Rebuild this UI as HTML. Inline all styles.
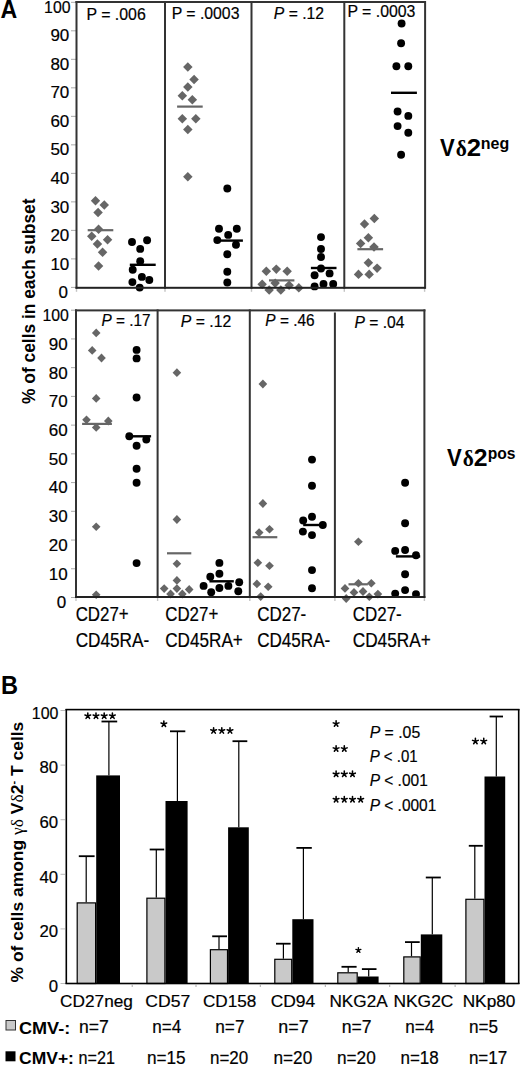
<!DOCTYPE html>
<html><head><meta charset="utf-8"><style>
html,body{margin:0;padding:0;background:#fff;}
svg{display:block;font-family:"Liberation Sans", sans-serif;}
text{stroke:#000;stroke-width:0.2px;}
[font-weight=bold]{stroke:none;}
</style></head><body>
<svg width="520" height="1065" viewBox="0 0 520 1065" font-family='"Liberation Sans", sans-serif'>
<rect width="520" height="1065" fill="#fff"/>
<rect x="71.0" y="286.90" width="5.0" height="1" fill="#aaa"/>
<text x="68" y="298.0" font-size="17" text-anchor="end" fill="#000">0</text>
<rect x="71.0" y="258.39" width="5.0" height="1" fill="#aaa"/>
<text x="69.3" y="269.5" font-size="17" text-anchor="end" fill="#000">10</text>
<rect x="71.0" y="229.88" width="5.0" height="1" fill="#aaa"/>
<text x="69.3" y="241.0" font-size="17" text-anchor="end" fill="#000">20</text>
<rect x="71.0" y="201.37" width="5.0" height="1" fill="#aaa"/>
<text x="69.3" y="212.5" font-size="17" text-anchor="end" fill="#000">30</text>
<rect x="71.0" y="172.86" width="5.0" height="1" fill="#aaa"/>
<text x="69.3" y="184.0" font-size="17" text-anchor="end" fill="#000">40</text>
<rect x="71.0" y="144.35" width="5.0" height="1" fill="#aaa"/>
<text x="69.3" y="155.4" font-size="17" text-anchor="end" fill="#000">50</text>
<rect x="71.0" y="115.84" width="5.0" height="1" fill="#aaa"/>
<text x="69.3" y="126.9" font-size="17" text-anchor="end" fill="#000">60</text>
<rect x="71.0" y="87.33" width="5.0" height="1" fill="#aaa"/>
<text x="69.3" y="98.4" font-size="17" text-anchor="end" fill="#000">70</text>
<rect x="71.0" y="58.82" width="5.0" height="1" fill="#aaa"/>
<text x="69.3" y="69.9" font-size="17" text-anchor="end" fill="#000">80</text>
<rect x="71.0" y="30.31" width="5.0" height="1" fill="#aaa"/>
<text x="69.3" y="41.4" font-size="17" text-anchor="end" fill="#000">90</text>
<rect x="71.0" y="1.80" width="5.0" height="1" fill="#aaa"/>
<text x="70.5" y="12.9" font-size="17" text-anchor="end" textLength="26.4" lengthAdjust="spacingAndGlyphs" fill="#000">100</text>
<rect x="71.0" y="597.00" width="5.0" height="1" fill="#aaa"/>
<text x="66.1" y="608.3" font-size="17" text-anchor="end" fill="#000">0</text>
<rect x="71.0" y="568.27" width="5.0" height="1" fill="#aaa"/>
<text x="67.6" y="579.6" font-size="17" text-anchor="end" fill="#000">10</text>
<rect x="71.0" y="539.54" width="5.0" height="1" fill="#aaa"/>
<text x="67.6" y="550.8" font-size="17" text-anchor="end" fill="#000">20</text>
<rect x="71.0" y="510.81" width="5.0" height="1" fill="#aaa"/>
<text x="67.6" y="522.1" font-size="17" text-anchor="end" fill="#000">30</text>
<rect x="71.0" y="482.08" width="5.0" height="1" fill="#aaa"/>
<text x="67.6" y="493.4" font-size="17" text-anchor="end" fill="#000">40</text>
<rect x="71.0" y="453.35" width="5.0" height="1" fill="#aaa"/>
<text x="67.6" y="464.7" font-size="17" text-anchor="end" fill="#000">50</text>
<rect x="71.0" y="424.62" width="5.0" height="1" fill="#aaa"/>
<text x="67.6" y="435.9" font-size="17" text-anchor="end" fill="#000">60</text>
<rect x="71.0" y="395.89" width="5.0" height="1" fill="#aaa"/>
<text x="67.6" y="407.2" font-size="17" text-anchor="end" fill="#000">70</text>
<rect x="71.0" y="367.16" width="5.0" height="1" fill="#aaa"/>
<text x="67.6" y="378.5" font-size="17" text-anchor="end" fill="#000">80</text>
<rect x="71.0" y="338.43" width="5.0" height="1" fill="#aaa"/>
<text x="67.6" y="349.7" font-size="17" text-anchor="end" fill="#000">90</text>
<rect x="71.0" y="309.70" width="5.0" height="1" fill="#aaa"/>
<text x="68.9" y="321.0" font-size="17" text-anchor="end" textLength="26.4" lengthAdjust="spacingAndGlyphs" fill="#000">100</text>
<rect x="75.50" y="1.0" width="2" height="287.8" fill="#333"/>
<rect x="75.5" y="1.00" width="350.1" height="2" fill="#333"/>
<rect x="164.00" y="1.0" width="2" height="287.8" fill="#333"/>
<rect x="250.50" y="1.0" width="2" height="287.8" fill="#333"/>
<rect x="343.30" y="1.0" width="2" height="287.8" fill="#333"/>
<rect x="424.10" y="1.0" width="2" height="287.8" fill="#333"/>
<rect x="75.00" y="309.4" width="2" height="288.6" fill="#333"/>
<rect x="75.0" y="309.40" width="350.4" height="2" fill="#333"/>
<rect x="156.60" y="309.4" width="2" height="288.6" fill="#333"/>
<rect x="248.80" y="309.4" width="2" height="288.6" fill="#333"/>
<rect x="423.40" y="309.4" width="2" height="288.6" fill="#333"/>
<rect x="75.80" y="288.8" width="1.4" height="3.0" fill="#c4c4c4"/>
<rect x="164.30" y="288.8" width="1.4" height="3.0" fill="#c4c4c4"/>
<rect x="250.80" y="288.8" width="1.4" height="3.0" fill="#c4c4c4"/>
<rect x="343.60" y="288.8" width="1.4" height="3.0" fill="#c4c4c4"/>
<rect x="423.90" y="288.8" width="1.4" height="3.0" fill="#c4c4c4"/>
<rect x="75.30" y="598.0" width="1.4" height="3.0" fill="#c4c4c4"/>
<rect x="156.90" y="598.0" width="1.4" height="3.0" fill="#c4c4c4"/>
<rect x="249.10" y="598.0" width="1.4" height="3.0" fill="#c4c4c4"/>
<rect x="334.20" y="598.0" width="1.4" height="3.0" fill="#c4c4c4"/>
<rect x="423.70" y="598.0" width="1.4" height="3.0" fill="#c4c4c4"/>
<rect x="333.90" y="312.5" width="2" height="285.5" fill="#333"/>
<path d="M95.5 196.1L100.2 200.8L95.5 205.6L90.8 200.8Z" fill="#666"/>
<path d="M104.3 200.3L109.0 205.1L104.3 209.8L99.5 205.1Z" fill="#666"/>
<path d="M98.1 207.8L102.8 212.5L98.1 217.2L93.3 212.5Z" fill="#666"/>
<path d="M98.6 224.6L103.3 229.3L98.6 234.1L93.8 229.3Z" fill="#666"/>
<path d="M91.7 231.4L96.5 236.2L91.7 240.9L87.0 236.2Z" fill="#666"/>
<path d="M107.6 234.9L112.3 239.7L107.6 244.4L102.8 239.7Z" fill="#666"/>
<path d="M97.4 239.2L102.2 244.0L97.4 248.8L92.7 244.0Z" fill="#666"/>
<path d="M102.6 247.6L107.3 252.3L102.6 257.1L97.8 252.3Z" fill="#666"/>
<path d="M98.6 261.2L103.3 266.0L98.6 270.8L93.8 266.0Z" fill="#666"/>
<path d="M187.8 62.3L192.6 67.1L187.8 71.8L183.1 67.1Z" fill="#666"/>
<path d="M194.1 74.8L198.8 79.6L194.1 84.3L189.3 79.6Z" fill="#666"/>
<path d="M187.8 82.2L192.6 87.0L187.8 91.8L183.1 87.0Z" fill="#666"/>
<path d="M182.3 91.0L187.1 95.7L182.3 100.5L177.6 95.7Z" fill="#666"/>
<path d="M192.3 95.0L197.1 99.7L192.3 104.5L187.6 99.7Z" fill="#666"/>
<path d="M182.3 114.0L187.1 118.7L182.3 123.5L177.6 118.7Z" fill="#666"/>
<path d="M195.8 114.0L200.6 118.7L195.8 123.5L191.1 118.7Z" fill="#666"/>
<path d="M187.8 124.7L192.6 129.4L187.8 134.2L183.1 129.4Z" fill="#666"/>
<path d="M187.8 171.9L192.6 176.7L187.8 181.4L183.1 176.7Z" fill="#666"/>
<path d="M266.3 266.6L271.1 271.3L266.3 276.1L261.6 271.3Z" fill="#666"/>
<path d="M276.3 264.4L281.1 269.1L276.3 273.9L271.6 269.1Z" fill="#666"/>
<path d="M287.2 266.6L291.9 271.3L287.2 276.1L282.4 271.3Z" fill="#666"/>
<path d="M262.2 279.4L266.9 284.2L262.2 288.9L257.4 284.2Z" fill="#666"/>
<path d="M275.2 278.4L279.9 283.1L275.2 287.9L270.4 283.1Z" fill="#666"/>
<path d="M289.1 280.4L293.9 285.2L289.1 289.9L284.4 285.2Z" fill="#666"/>
<path d="M269.2 285.2L273.9 290.0L269.2 294.8L264.4 290.0Z" fill="#666"/>
<path d="M280.8 285.2L285.6 290.0L280.8 294.8L276.1 290.0Z" fill="#666"/>
<path d="M298.8 283.1L303.6 287.9L298.8 292.6L294.1 287.9Z" fill="#666"/>
<path d="M374.3 213.8L379.1 218.6L374.3 223.3L369.6 218.6Z" fill="#666"/>
<path d="M364.5 219.2L369.2 224.0L364.5 228.8L359.8 224.0Z" fill="#666"/>
<path d="M368.4 233.1L373.1 237.8L368.4 242.6L363.6 237.8Z" fill="#666"/>
<path d="M360.6 238.7L365.4 243.4L360.6 248.2L355.9 243.4Z" fill="#666"/>
<path d="M374.0 242.2L378.8 247.0L374.0 251.8L369.2 247.0Z" fill="#666"/>
<path d="M368.4 258.1L373.1 262.8L368.4 267.6L363.6 262.8Z" fill="#666"/>
<path d="M377.1 263.4L381.9 268.1L377.1 272.9L372.4 268.1Z" fill="#666"/>
<path d="M358.5 269.6L363.2 274.4L358.5 279.1L353.8 274.4Z" fill="#666"/>
<path d="M369.2 269.6L373.9 274.4L369.2 279.1L364.4 274.4Z" fill="#666"/>
<path d="M96.2 328.5L100.5 332.9L96.2 337.2L91.9 332.9Z" fill="#666"/>
<path d="M92.2 346.0L96.5 350.4L92.2 354.8L87.9 350.4Z" fill="#666"/>
<path d="M101.5 353.6L105.8 358.0L101.5 362.4L97.2 358.0Z" fill="#666"/>
<path d="M96.2 394.0L100.5 398.4L96.2 402.8L91.9 398.4Z" fill="#666"/>
<path d="M86.5 415.4L90.8 419.8L86.5 424.2L82.2 419.8Z" fill="#666"/>
<path d="M108.3 416.6L112.6 421.0L108.3 425.4L104.0 421.0Z" fill="#666"/>
<path d="M96.2 423.0L100.5 427.4L96.2 431.8L91.9 427.4Z" fill="#666"/>
<path d="M96.2 522.4L100.5 526.8L96.2 531.1L91.9 526.8Z" fill="#666"/>
<path d="M96.2 590.4L100.5 594.8L96.2 599.1L91.9 594.8Z" fill="#666"/>
<path d="M176.9 368.3L181.2 372.7L176.9 377.1L172.6 372.7Z" fill="#666"/>
<path d="M176.9 515.1L181.2 519.5L176.9 523.9L172.6 519.5Z" fill="#666"/>
<path d="M176.9 559.4L181.2 563.8L176.9 568.1L172.6 563.8Z" fill="#666"/>
<path d="M176.9 576.0L181.2 580.4L176.9 584.8L172.6 580.4Z" fill="#666"/>
<path d="M164.2 584.2L168.5 588.6L164.2 593.0L159.8 588.6Z" fill="#666"/>
<path d="M176.9 584.2L181.2 588.6L176.9 593.0L172.6 588.6Z" fill="#666"/>
<path d="M189.2 585.1L193.5 589.5L189.2 593.9L184.8 589.5Z" fill="#666"/>
<path d="M170.6 589.6L174.9 594.0L170.6 598.4L166.2 594.0Z" fill="#666"/>
<path d="M182.3 589.6L186.7 594.0L182.3 598.4L178.0 594.0Z" fill="#666"/>
<path d="M262.9 379.6L267.2 384.0L262.9 388.4L258.5 384.0Z" fill="#666"/>
<path d="M262.9 499.1L267.2 503.5L262.9 507.9L258.5 503.5Z" fill="#666"/>
<path d="M269.5 524.9L273.9 529.3L269.5 533.6L265.1 529.3Z" fill="#666"/>
<path d="M259.1 528.2L263.5 532.6L259.1 537.0L254.8 532.6Z" fill="#666"/>
<path d="M257.9 558.4L262.2 562.7L257.9 567.1L253.5 562.7Z" fill="#666"/>
<path d="M269.5 561.4L273.9 565.7L269.5 570.1L265.1 565.7Z" fill="#666"/>
<path d="M256.9 579.5L261.2 583.9L256.9 588.2L252.5 583.9Z" fill="#666"/>
<path d="M268.2 582.4L272.6 586.7L268.2 591.1L263.8 586.7Z" fill="#666"/>
<path d="M260.7 592.2L265.1 596.6L260.7 601.0L256.3 596.6Z" fill="#666"/>
<path d="M358.4 537.4L362.8 541.7L358.4 546.1L354.0 541.7Z" fill="#666"/>
<path d="M358.4 578.9L362.8 583.2L358.4 587.6L354.0 583.2Z" fill="#666"/>
<path d="M371.3 578.9L375.7 583.2L371.3 587.6L366.9 583.2Z" fill="#666"/>
<path d="M345.0 584.0L349.4 588.4L345.0 592.8L340.6 588.4Z" fill="#666"/>
<path d="M354.0 588.0L358.4 592.4L354.0 596.8L349.6 592.4Z" fill="#666"/>
<path d="M363.0 587.1L367.4 591.5L363.0 595.9L358.6 591.5Z" fill="#666"/>
<path d="M377.9 589.8L382.2 594.1L377.9 598.5L373.5 594.1Z" fill="#666"/>
<path d="M346.2 594.1L350.6 598.5L346.2 602.9L341.8 598.5Z" fill="#666"/>
<path d="M369.3 592.4L373.7 596.7L369.3 601.1L364.9 596.7Z" fill="#666"/>
<rect x="87.7" y="229.10" width="25.6" height="2.2" fill="#666"/>
<rect x="177.1" y="105.50" width="25.6" height="2.2" fill="#666"/>
<rect x="269.0" y="279.30" width="25.4" height="2.2" fill="#666"/>
<rect x="357.4" y="248.10" width="25.7" height="2.2" fill="#666"/>
<rect x="82.1" y="422.80" width="29.8" height="2.2" fill="#666"/>
<rect x="167.0" y="552.20" width="24.3" height="2.2" fill="#666"/>
<rect x="252.5" y="536.10" width="24.8" height="2.2" fill="#666"/>
<rect x="348.5" y="583.20" width="19.4" height="2.2" fill="#666"/>
<circle cx="132.0" cy="242.0" r="3.95" fill="#000"/>
<circle cx="147.1" cy="240.2" r="3.95" fill="#000"/>
<circle cx="140.2" cy="248.9" r="3.95" fill="#000"/>
<circle cx="140.2" cy="261.3" r="3.95" fill="#000"/>
<circle cx="132.7" cy="269.7" r="3.95" fill="#000"/>
<circle cx="141.9" cy="276.9" r="3.95" fill="#000"/>
<circle cx="149.3" cy="280.0" r="3.95" fill="#000"/>
<circle cx="132.4" cy="282.1" r="3.95" fill="#000"/>
<circle cx="139.7" cy="287.6" r="3.95" fill="#000"/>
<circle cx="227.3" cy="188.5" r="3.95" fill="#000"/>
<circle cx="219.0" cy="228.8" r="3.95" fill="#000"/>
<circle cx="236.8" cy="228.8" r="3.95" fill="#000"/>
<circle cx="228.2" cy="234.9" r="3.95" fill="#000"/>
<circle cx="217.3" cy="240.1" r="3.95" fill="#000"/>
<circle cx="236.0" cy="244.8" r="3.95" fill="#000"/>
<circle cx="227.3" cy="254.3" r="3.95" fill="#000"/>
<circle cx="227.3" cy="271.8" r="3.95" fill="#000"/>
<circle cx="227.3" cy="282.5" r="3.95" fill="#000"/>
<circle cx="321.0" cy="237.1" r="3.95" fill="#000"/>
<circle cx="321.0" cy="249.0" r="3.95" fill="#000"/>
<circle cx="321.0" cy="257.0" r="3.95" fill="#000"/>
<circle cx="321.0" cy="268.5" r="3.95" fill="#000"/>
<circle cx="314.6" cy="275.3" r="3.95" fill="#000"/>
<circle cx="329.6" cy="273.4" r="3.95" fill="#000"/>
<circle cx="323.5" cy="284.0" r="3.95" fill="#000"/>
<circle cx="333.2" cy="284.0" r="3.95" fill="#000"/>
<circle cx="314.6" cy="286.4" r="3.95" fill="#000"/>
<circle cx="401.6" cy="23.5" r="3.95" fill="#000"/>
<circle cx="401.1" cy="43.2" r="3.95" fill="#000"/>
<circle cx="396.4" cy="66.2" r="3.95" fill="#000"/>
<circle cx="408.3" cy="66.2" r="3.95" fill="#000"/>
<circle cx="397.6" cy="111.5" r="3.95" fill="#000"/>
<circle cx="408.3" cy="115.9" r="3.95" fill="#000"/>
<circle cx="397.6" cy="126.1" r="3.95" fill="#000"/>
<circle cx="408.3" cy="132.7" r="3.95" fill="#000"/>
<circle cx="401.1" cy="154.8" r="3.95" fill="#000"/>
<circle cx="136.6" cy="349.9" r="3.95" fill="#000"/>
<circle cx="136.6" cy="358.4" r="3.95" fill="#000"/>
<circle cx="136.6" cy="397.5" r="3.95" fill="#000"/>
<circle cx="129.3" cy="436.3" r="3.95" fill="#000"/>
<circle cx="146.3" cy="439.5" r="3.95" fill="#000"/>
<circle cx="136.6" cy="445.7" r="3.95" fill="#000"/>
<circle cx="136.6" cy="468.8" r="3.95" fill="#000"/>
<circle cx="136.6" cy="482.8" r="3.95" fill="#000"/>
<circle cx="136.6" cy="563.1" r="3.95" fill="#000"/>
<circle cx="219.4" cy="562.9" r="3.95" fill="#000"/>
<circle cx="219.4" cy="573.8" r="3.95" fill="#000"/>
<circle cx="210.3" cy="576.8" r="3.95" fill="#000"/>
<circle cx="203.6" cy="585.9" r="3.95" fill="#000"/>
<circle cx="219.4" cy="588.0" r="3.95" fill="#000"/>
<circle cx="228.4" cy="585.9" r="3.95" fill="#000"/>
<circle cx="239.2" cy="582.2" r="3.95" fill="#000"/>
<circle cx="211.2" cy="592.2" r="3.95" fill="#000"/>
<circle cx="238.3" cy="591.3" r="3.95" fill="#000"/>
<circle cx="312.0" cy="459.6" r="3.95" fill="#000"/>
<circle cx="312.0" cy="485.8" r="3.95" fill="#000"/>
<circle cx="312.0" cy="516.7" r="3.95" fill="#000"/>
<circle cx="303.2" cy="520.5" r="3.95" fill="#000"/>
<circle cx="322.8" cy="525.0" r="3.95" fill="#000"/>
<circle cx="302.9" cy="531.6" r="3.95" fill="#000"/>
<circle cx="312.0" cy="535.1" r="3.95" fill="#000"/>
<circle cx="312.0" cy="570.1" r="3.95" fill="#000"/>
<circle cx="312.0" cy="588.3" r="3.95" fill="#000"/>
<circle cx="405.1" cy="482.8" r="3.95" fill="#000"/>
<circle cx="405.1" cy="523.2" r="3.95" fill="#000"/>
<circle cx="395.2" cy="550.9" r="3.95" fill="#000"/>
<circle cx="405.1" cy="550.0" r="3.95" fill="#000"/>
<circle cx="416.0" cy="555.2" r="3.95" fill="#000"/>
<circle cx="405.1" cy="574.2" r="3.95" fill="#000"/>
<circle cx="405.1" cy="590.1" r="3.95" fill="#000"/>
<circle cx="395.2" cy="593.6" r="3.95" fill="#000"/>
<circle cx="416.0" cy="594.1" r="3.95" fill="#000"/>
<rect x="129.8" y="263.60" width="25.9" height="2.4" fill="#000"/>
<rect x="217.8" y="239.40" width="25.1" height="2.4" fill="#000"/>
<rect x="310.9" y="266.80" width="25.6" height="2.4" fill="#000"/>
<rect x="391.0" y="91.60" width="25.9" height="2.4" fill="#000"/>
<rect x="126.1" y="435.10" width="25.0" height="2.4" fill="#000"/>
<rect x="209.4" y="580.10" width="24.4" height="2.4" fill="#000"/>
<rect x="303.2" y="523.80" width="22.0" height="2.4" fill="#000"/>
<rect x="395.9" y="555.20" width="24.3" height="2.4" fill="#000"/>
<rect x="75.5" y="286.80" width="350.1" height="2" fill="#222"/>
<rect x="75.0" y="596.00" width="350.4" height="2" fill="#222"/>
<text x="86.44" y="19.5" font-size="16.3" textLength="59.29" lengthAdjust="spacingAndGlyphs" xml:space="preserve">P = .006</text>
<text x="171.64" y="19.3" font-size="16.3" textLength="67.8" lengthAdjust="spacingAndGlyphs" xml:space="preserve">P = .0003</text>
<text x="273.83" y="19.3" font-size="16.3" textLength="50.25" lengthAdjust="spacingAndGlyphs" xml:space="preserve"><tspan font-style="italic">P</tspan> = .12</text>
<text x="347.44" y="17.2" font-size="16.3" textLength="68.01" lengthAdjust="spacingAndGlyphs" xml:space="preserve">P = .0003</text>
<text x="101.44" y="326.2" font-size="16.3" textLength="49.02" lengthAdjust="spacingAndGlyphs" xml:space="preserve"><tspan font-style="italic">P</tspan> = .17</text>
<text x="180.83" y="327.2" font-size="16.3" textLength="50.46" lengthAdjust="spacingAndGlyphs" xml:space="preserve"><tspan font-style="italic">P</tspan> = .12</text>
<text x="265.34" y="326" font-size="16.3" textLength="49.25" lengthAdjust="spacingAndGlyphs" xml:space="preserve"><tspan font-style="italic">P</tspan> = .46</text>
<text x="354.43" y="327.5" font-size="16.3" textLength="50.04" lengthAdjust="spacingAndGlyphs" xml:space="preserve"><tspan font-style="italic">P</tspan> = .04</text>
<text x="439.88" y="155.7" font-size="24" font-weight="bold" textLength="14.73" lengthAdjust="spacingAndGlyphs">V</text>
<text x="455.75" y="155.7" font-size="24" font-weight="bold" font-family="Liberation Serif, serif" textLength="11.08" lengthAdjust="spacingAndGlyphs">δ</text>
<text x="466.65" y="155.7" font-size="24" font-weight="bold" textLength="14.31" lengthAdjust="spacingAndGlyphs">2</text>
<text x="480.76" y="149.2" font-size="16" font-weight="bold" textLength="28.42" lengthAdjust="spacingAndGlyphs">neg</text>
<text x="446.88" y="465.8" font-size="24" font-weight="bold" textLength="14.73" lengthAdjust="spacingAndGlyphs">V</text>
<text x="462.75" y="465.8" font-size="24" font-weight="bold" font-family="Liberation Serif, serif" textLength="11.08" lengthAdjust="spacingAndGlyphs">δ</text>
<text x="473.68" y="465.8" font-size="24" font-weight="bold" textLength="13.79" lengthAdjust="spacingAndGlyphs">2</text>
<text x="487.78" y="459.2" font-size="16" font-weight="bold" textLength="27.79" lengthAdjust="spacingAndGlyphs">pos</text>
<text x="0.42" y="17.8" font-size="25.5" font-weight="bold" textLength="16.71" lengthAdjust="spacingAndGlyphs">A</text>
<text x="1.07" y="693.9" font-size="25.2" font-weight="bold" textLength="17.05" lengthAdjust="spacingAndGlyphs">B</text>
<text transform="translate(34.5,403.75) rotate(-90)" x="-0.13" font-size="17.5" font-weight="bold" textLength="205.35" lengthAdjust="spacingAndGlyphs">% of cells in each subset</text>
<text x="75.66" y="621.2" font-size="19.8" textLength="53.0" lengthAdjust="spacingAndGlyphs" xml:space="preserve">CD27+</text>
<text x="75.64" y="646.8" font-size="19.8" textLength="73.62" lengthAdjust="spacingAndGlyphs" xml:space="preserve">CD45RA-</text>
<text x="165.26" y="621.2" font-size="19.8" textLength="53.0" lengthAdjust="spacingAndGlyphs" xml:space="preserve">CD27+</text>
<text x="165.24" y="646.8" font-size="19.8" textLength="77.61" lengthAdjust="spacingAndGlyphs" xml:space="preserve">CD45RA+</text>
<text x="257.15" y="621.2" font-size="19.8" textLength="49.11" lengthAdjust="spacingAndGlyphs" xml:space="preserve">CD27-</text>
<text x="257.15" y="646.8" font-size="19.8" textLength="73.11" lengthAdjust="spacingAndGlyphs" xml:space="preserve">CD45RA-</text>
<text x="352.75" y="621.2" font-size="19.8" textLength="49.01" lengthAdjust="spacingAndGlyphs" xml:space="preserve">CD27-</text>
<text x="352.74" y="646.8" font-size="19.8" textLength="78.02" lengthAdjust="spacingAndGlyphs" xml:space="preserve">CD45RA+</text>
<rect x="60.5" y="983.00" width="4.5" height="1" fill="#bbb"/>
<text x="58.2" y="991.8" font-size="16.8" text-anchor="end" fill="#000">0</text>
<rect x="60.5" y="928.40" width="4.5" height="1" fill="#bbb"/>
<text x="58.2" y="937.2" font-size="16.8" text-anchor="end" fill="#000">20</text>
<rect x="60.5" y="873.80" width="4.5" height="1" fill="#bbb"/>
<text x="58.2" y="882.6" font-size="16.8" text-anchor="end" fill="#000">40</text>
<rect x="60.5" y="819.20" width="4.5" height="1" fill="#bbb"/>
<text x="58.2" y="828.0" font-size="16.8" text-anchor="end" fill="#000">60</text>
<rect x="60.5" y="764.60" width="4.5" height="1" fill="#bbb"/>
<text x="58.2" y="773.4" font-size="16.8" text-anchor="end" fill="#000">80</text>
<rect x="60.5" y="710.00" width="4.5" height="1" fill="#bbb"/>
<text x="58.4" y="718.8" font-size="16.8" text-anchor="end" textLength="26.6" lengthAdjust="spacingAndGlyphs" fill="#000">100</text>
<rect x="65.50" y="709.0" width="1.6" height="275.0" fill="#000"/>
<rect x="65.5" y="708.80" width="454.0" height="1.6" fill="#000"/>
<rect x="517.90" y="709.0" width="1.6" height="275.0" fill="#000"/>
<rect x="85.60" y="856.2" width="1.2" height="46.1" fill="#000"/>
<rect x="78.8" y="855.30" width="15.8" height="1.8" fill="#000"/>
<rect x="108.30" y="721.5" width="1.2" height="53.9" fill="#000"/>
<rect x="101.5" y="720.60" width="15.7" height="1.8" fill="#000"/>
<rect x="77.2" y="902.9" width="18.4" height="80.6" fill="#c9c9c9" stroke="#000" stroke-width="1.2"/>
<rect x="96.2" y="775.4" width="23.8" height="208.1" fill="#000"/>
<rect x="155.70" y="849.5" width="1.2" height="48.1" fill="#000"/>
<rect x="149.7" y="848.60" width="14.5" height="1.8" fill="#000"/>
<rect x="176.80" y="731.3" width="1.2" height="69.7" fill="#000"/>
<rect x="170.0" y="730.40" width="15.3" height="1.8" fill="#000"/>
<rect x="146.9" y="898.2" width="18.0" height="85.3" fill="#c9c9c9" stroke="#000" stroke-width="1.2"/>
<rect x="165.5" y="801.0" width="22.1" height="182.5" fill="#000"/>
<rect x="218.40" y="936.3" width="1.2" height="12.8" fill="#000"/>
<rect x="212.2" y="935.40" width="14.8" height="1.8" fill="#000"/>
<rect x="238.20" y="741.2" width="1.2" height="86.1" fill="#000"/>
<rect x="232.5" y="740.30" width="14.8" height="1.8" fill="#000"/>
<rect x="210.4" y="949.7" width="17.1" height="33.8" fill="#c9c9c9" stroke="#000" stroke-width="1.2"/>
<rect x="228.1" y="827.3" width="20.7" height="156.2" fill="#000"/>
<rect x="282.80" y="943.7" width="1.2" height="15.0" fill="#000"/>
<rect x="276.0" y="942.80" width="14.6" height="1.8" fill="#000"/>
<rect x="302.80" y="847.9" width="1.2" height="71.3" fill="#000"/>
<rect x="296.4" y="847.00" width="15.4" height="1.8" fill="#000"/>
<rect x="274.8" y="959.3" width="16.9" height="24.2" fill="#c9c9c9" stroke="#000" stroke-width="1.2"/>
<rect x="292.3" y="919.2" width="21.2" height="64.3" fill="#000"/>
<rect x="347.60" y="966.8" width="1.2" height="5.4" fill="#000"/>
<rect x="341.5" y="965.90" width="15.1" height="1.8" fill="#000"/>
<rect x="368.10" y="969.1" width="1.2" height="7.4" fill="#000"/>
<rect x="361.9" y="968.20" width="14.6" height="1.8" fill="#000"/>
<rect x="337.8" y="972.8" width="19.4" height="10.7" fill="#c9c9c9" stroke="#000" stroke-width="1.2"/>
<rect x="357.8" y="976.5" width="20.8" height="7.0" fill="#000"/>
<rect x="410.90" y="942.1" width="1.2" height="14.2" fill="#000"/>
<rect x="405.0" y="941.20" width="14.7" height="1.8" fill="#000"/>
<rect x="431.70" y="877.5" width="1.2" height="56.9" fill="#000"/>
<rect x="425.8" y="876.60" width="15.0" height="1.8" fill="#000"/>
<rect x="403.8" y="956.9" width="16.4" height="26.6" fill="#c9c9c9" stroke="#000" stroke-width="1.2"/>
<rect x="420.8" y="934.4" width="21.5" height="49.1" fill="#000"/>
<rect x="474.20" y="845.8" width="1.2" height="52.9" fill="#000"/>
<rect x="468.8" y="844.90" width="14.0" height="1.8" fill="#000"/>
<rect x="495.70" y="716.5" width="1.2" height="60.0" fill="#000"/>
<rect x="489.6" y="715.60" width="13.4" height="1.8" fill="#000"/>
<rect x="465.9" y="899.3" width="18.0" height="84.2" fill="#c9c9c9" stroke="#000" stroke-width="1.2"/>
<rect x="484.5" y="776.5" width="20.7" height="207.0" fill="#000"/>
<rect x="65.5" y="982.70" width="454.0" height="1.6" fill="#000"/>
<rect x="131.70" y="984.0" width="1" height="3.0" fill="#aaa"/>
<rect x="195.50" y="984.0" width="1" height="3.0" fill="#aaa"/>
<rect x="259.80" y="984.0" width="1" height="3.0" fill="#aaa"/>
<rect x="324.80" y="984.0" width="1" height="3.0" fill="#aaa"/>
<rect x="389.20" y="984.0" width="1" height="3.0" fill="#aaa"/>
<rect x="454.60" y="984.0" width="1" height="3.0" fill="#aaa"/>
<path d="M87.80 715.90L87.80 712.90M87.80 715.90L90.65 714.97M87.80 715.90L89.56 718.33M87.80 715.90L86.04 718.33M87.80 715.90L84.95 714.97" stroke="#000" stroke-width="1.55" stroke-linecap="round" fill="none"/>
<path d="M96.00 715.90L96.00 712.90M96.00 715.90L98.85 714.97M96.00 715.90L97.76 718.33M96.00 715.90L94.24 718.33M96.00 715.90L93.15 714.97" stroke="#000" stroke-width="1.55" stroke-linecap="round" fill="none"/>
<path d="M104.20 715.90L104.20 712.90M104.20 715.90L107.05 714.97M104.20 715.90L105.96 718.33M104.20 715.90L102.44 718.33M104.20 715.90L101.35 714.97" stroke="#000" stroke-width="1.55" stroke-linecap="round" fill="none"/>
<path d="M112.40 715.90L112.40 712.90M112.40 715.90L115.25 714.97M112.40 715.90L114.16 718.33M112.40 715.90L110.64 718.33M112.40 715.90L109.55 714.97" stroke="#000" stroke-width="1.55" stroke-linecap="round" fill="none"/>
<path d="M163.85 724.00L163.85 721.00M163.85 724.00L166.70 723.07M163.85 724.00L165.61 726.43M163.85 724.00L162.09 726.43M163.85 724.00L161.00 723.07" stroke="#000" stroke-width="1.55" stroke-linecap="round" fill="none"/>
<path d="M213.60 730.70L213.60 727.70M213.60 730.70L216.45 729.77M213.60 730.70L215.36 733.13M213.60 730.70L211.84 733.13M213.60 730.70L210.75 729.77" stroke="#000" stroke-width="1.55" stroke-linecap="round" fill="none"/>
<path d="M221.80 730.70L221.80 727.70M221.80 730.70L224.65 729.77M221.80 730.70L223.56 733.13M221.80 730.70L220.04 733.13M221.80 730.70L218.95 729.77" stroke="#000" stroke-width="1.55" stroke-linecap="round" fill="none"/>
<path d="M230.00 730.70L230.00 727.70M230.00 730.70L232.85 729.77M230.00 730.70L231.76 733.13M230.00 730.70L228.24 733.13M230.00 730.70L227.15 729.77" stroke="#000" stroke-width="1.55" stroke-linecap="round" fill="none"/>
<path d="M358.40 950.20L358.40 947.60M358.40 950.20L360.87 949.40M358.40 950.20L359.93 952.30M358.40 950.20L356.87 952.30M358.40 950.20L355.93 949.40" stroke="#000" stroke-width="1.4" stroke-linecap="round" fill="none"/>
<path d="M475.40 741.30L475.40 738.30M475.40 741.30L478.25 740.37M475.40 741.30L477.16 743.73M475.40 741.30L473.64 743.73M475.40 741.30L472.55 740.37" stroke="#000" stroke-width="1.55" stroke-linecap="round" fill="none"/>
<path d="M483.75 741.30L483.75 738.30M483.75 741.30L486.60 740.37M483.75 741.30L485.51 743.73M483.75 741.30L481.99 743.73M483.75 741.30L480.90 740.37" stroke="#000" stroke-width="1.55" stroke-linecap="round" fill="none"/>
<path d="M336.10 723.80L336.10 720.80M336.10 723.80L338.95 722.87M336.10 723.80L337.86 726.23M336.10 723.80L334.34 726.23M336.10 723.80L333.25 722.87" stroke="#000" stroke-width="1.55" stroke-linecap="round" fill="none"/>
<text x="369.63" y="738.1" font-size="16.8" textLength="50.6" lengthAdjust="spacingAndGlyphs" xml:space="preserve"><tspan font-style="italic">P</tspan> = .05</text>
<path d="M336.10 748.80L336.10 745.80M336.10 748.80L338.95 747.87M336.10 748.80L337.86 751.23M336.10 748.80L334.34 751.23M336.10 748.80L333.25 747.87" stroke="#000" stroke-width="1.55" stroke-linecap="round" fill="none"/>
<path d="M344.30 748.80L344.30 745.80M344.30 748.80L347.15 747.87M344.30 748.80L346.06 751.23M344.30 748.80L342.54 751.23M344.30 748.80L341.45 747.87" stroke="#000" stroke-width="1.55" stroke-linecap="round" fill="none"/>
<text x="369.65" y="761.6" font-size="16.8" textLength="48.0" lengthAdjust="spacingAndGlyphs" xml:space="preserve"><tspan font-style="italic">P</tspan> &lt; .01</text>
<path d="M336.10 774.10L336.10 771.10M336.10 774.10L338.95 773.17M336.10 774.10L337.86 776.53M336.10 774.10L334.34 776.53M336.10 774.10L333.25 773.17" stroke="#000" stroke-width="1.55" stroke-linecap="round" fill="none"/>
<path d="M344.30 774.10L344.30 771.10M344.30 774.10L347.15 773.17M344.30 774.10L346.06 776.53M344.30 774.10L342.54 776.53M344.30 774.10L341.45 773.17" stroke="#000" stroke-width="1.55" stroke-linecap="round" fill="none"/>
<path d="M352.50 774.10L352.50 771.10M352.50 774.10L355.35 773.17M352.50 774.10L354.26 776.53M352.50 774.10L350.74 776.53M352.50 774.10L349.65 773.17" stroke="#000" stroke-width="1.55" stroke-linecap="round" fill="none"/>
<text x="369.64" y="785.6" font-size="16.8" textLength="58.15" lengthAdjust="spacingAndGlyphs" xml:space="preserve"><tspan font-style="italic">P</tspan> &lt; .001</text>
<path d="M336.10 799.50L336.10 796.50M336.10 799.50L338.95 798.57M336.10 799.50L337.86 801.93M336.10 799.50L334.34 801.93M336.10 799.50L333.25 798.57" stroke="#000" stroke-width="1.55" stroke-linecap="round" fill="none"/>
<path d="M344.30 799.50L344.30 796.50M344.30 799.50L347.15 798.57M344.30 799.50L346.06 801.93M344.30 799.50L342.54 801.93M344.30 799.50L341.45 798.57" stroke="#000" stroke-width="1.55" stroke-linecap="round" fill="none"/>
<path d="M352.50 799.50L352.50 796.50M352.50 799.50L355.35 798.57M352.50 799.50L354.26 801.93M352.50 799.50L350.74 801.93M352.50 799.50L349.65 798.57" stroke="#000" stroke-width="1.55" stroke-linecap="round" fill="none"/>
<path d="M360.70 799.50L360.70 796.50M360.70 799.50L363.55 798.57M360.70 799.50L362.46 801.93M360.70 799.50L358.94 801.93M360.70 799.50L357.85 798.57" stroke="#000" stroke-width="1.55" stroke-linecap="round" fill="none"/>
<text x="369.64" y="810.9" font-size="16.8" textLength="66.67" lengthAdjust="spacingAndGlyphs" xml:space="preserve"><tspan font-style="italic">P</tspan> &lt; .0001</text>
<text transform="translate(23.1,982.3) rotate(-90)" x="-0.14" font-size="16.3" font-weight="bold" textLength="260.75" lengthAdjust="spacingAndGlyphs">% of cells among <tspan font-family="Liberation Serif, serif" font-weight="normal">&#947;&#948;</tspan> V<tspan font-family="Liberation Serif, serif" font-weight="normal">&#948;</tspan>2<tspan font-size="10.2" dy="-6">-</tspan><tspan dy="6"> T cells</tspan></text>
<text x="60.14" y="1007.2" font-size="17" textLength="72.79" lengthAdjust="spacingAndGlyphs" xml:space="preserve">CD27neg</text>
<text x="145.22" y="1007.2" font-size="17" textLength="44.99" lengthAdjust="spacingAndGlyphs" xml:space="preserve">CD57</text>
<text x="202.94" y="1007.2" font-size="17" textLength="53.39" lengthAdjust="spacingAndGlyphs" xml:space="preserve">CD158</text>
<text x="270.68" y="1007.2" font-size="17" textLength="44.57" lengthAdjust="spacingAndGlyphs" xml:space="preserve">CD94</text>
<text x="329.42" y="1007.2" font-size="17" textLength="58.28" lengthAdjust="spacingAndGlyphs" xml:space="preserve">NKG2A</text>
<text x="393.41" y="1007.2" font-size="17" textLength="60.0" lengthAdjust="spacingAndGlyphs" xml:space="preserve">NKG2C</text>
<text x="462.67" y="1007.2" font-size="17" textLength="52.77" lengthAdjust="spacingAndGlyphs" xml:space="preserve">NKp80</text>
<text x="78.96" y="1033.4" font-size="17.5" textLength="29.85" lengthAdjust="spacingAndGlyphs" xml:space="preserve">n=7</text>
<text x="152.19" y="1033.4" font-size="17.5" textLength="28.94" lengthAdjust="spacingAndGlyphs" xml:space="preserve">n=4</text>
<text x="215.28" y="1033.4" font-size="17.5" textLength="29.2" lengthAdjust="spacingAndGlyphs" xml:space="preserve">n=7</text>
<text x="278.24" y="1033.4" font-size="17.5" textLength="30.38" lengthAdjust="spacingAndGlyphs" xml:space="preserve">n=7</text>
<text x="341.76" y="1033.4" font-size="17.5" textLength="29.85" lengthAdjust="spacingAndGlyphs" xml:space="preserve">n=7</text>
<text x="405.29" y="1033.4" font-size="17.5" textLength="28.94" lengthAdjust="spacingAndGlyphs" xml:space="preserve">n=4</text>
<text x="468.88" y="1033.4" font-size="17.5" textLength="29.13" lengthAdjust="spacingAndGlyphs" xml:space="preserve">n=5</text>
<text x="78.55" y="1063.8" font-size="17.5" textLength="36.4" lengthAdjust="spacingAndGlyphs" xml:space="preserve">n=21</text>
<text x="146.88" y="1063.8" font-size="17.5" textLength="38.75" lengthAdjust="spacingAndGlyphs" xml:space="preserve">n=15</text>
<text x="210.0" y="1063.8" font-size="17.5" textLength="38.22" lengthAdjust="spacingAndGlyphs" xml:space="preserve">n=20</text>
<text x="273.48" y="1063.8" font-size="17.5" textLength="38.75" lengthAdjust="spacingAndGlyphs" xml:space="preserve">n=20</text>
<text x="336.98" y="1063.8" font-size="17.5" textLength="38.75" lengthAdjust="spacingAndGlyphs" xml:space="preserve">n=20</text>
<text x="400.5" y="1063.8" font-size="17.5" textLength="38.22" lengthAdjust="spacingAndGlyphs" xml:space="preserve">n=18</text>
<text x="468.89" y="1063.8" font-size="17.5" textLength="38.4" lengthAdjust="spacingAndGlyphs" xml:space="preserve">n=17</text>
<rect x="6" y="1020.5" width="9.5" height="9.5" fill="#c9c9c9" stroke="#333" stroke-width="1"/>
<rect x="5.5" y="1051.3" width="10" height="10" fill="#000"/>
<text x="18.98" y="1033.5" font-size="17.3" textLength="51.25" lengthAdjust="spacingAndGlyphs" xml:space="preserve"><tspan font-weight="bold">CMV-:</tspan></text>
<text x="19.0" y="1064" font-size="17.3" textLength="54.94" lengthAdjust="spacingAndGlyphs" xml:space="preserve"><tspan font-weight="bold">CMV+:</tspan></text>
</svg>
</body></html>
